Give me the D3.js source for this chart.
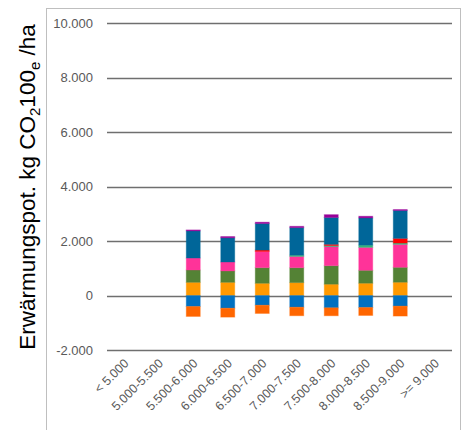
<!DOCTYPE html>
<html>
<head>
<meta charset="utf-8">
<script src="https://cdn.jsdelivr.net/npm/d3@7"></script>
<style>
  html, body { margin: 0; padding: 0; background: #fff; }
  svg { display: block; }
</style>
</head>
<body>
<svg id="chart" width="462" height="430"></svg>
<script>
// ---- data ----
const categories = ["< 5.000", "5.000-5.500", "5.500-6.000", "6.000-6.500", "6.500-7.000",
                    "7.000-7.500", "7.500-8.000", "8.000-8.500", "8.500-9.000", ">= 9.000"];
const yTicks = [-2000, 0, 2000, 4000, 6000, 8000, 10000];
const yTickLabels = ["-2.000", "0", "2.000", "4.000", "6.000", "8.000", "10.000"];

// positive components (bottom to top)
const serOrange   = [0, 0, 486, 486, 450, 475, 417, 453, 490, 0];
const serGreen    = [0, 0, 453, 417, 574, 548, 680, 475, 548, 0];
const serPink     = [0, 0, 439, 329, 596, 413, 700, 841, 841, 0];
const serTeal     = [0, 0, 0, 0, 0, 48, 37, 84, 48, 0];
const serRed      = [0, 0, 0, 0, 51, 0, 48, 0, 172, 0];
const serDarkBlue = [0, 0, 998, 888, 973, 1009, 985, 998, 1024, 0];
const serPurple   = [0, 0, 35, 48, 51, 51, 105, 62, 37, 0];
// negative components (top to bottom)
const serBlue      = [0, 0, -402, -464, -355, -428, -450, -439, -388, 0];
const serOrangeRed = [0, 0, -366, -329, -303, -314, -293, -293, -366, 0];

const seriesList = [
  { name: "Serie 1", values: serOrange,    color: "#FF9900" },
  { name: "Serie 2", values: serGreen,     color: "#548235" },
  { name: "Serie 3", values: serPink,      color: "#FF3399" },
  { name: "Serie 4", values: serTeal,      color: "#33B37A" },
  { name: "Serie 5", values: serRed,       color: "#FF0000" },
  { name: "Serie 6", values: serDarkBlue,  color: "#006699" },
  { name: "Serie 7", values: serPurple,    color: "#990099" },
  { name: "Serie 8", values: serBlue,      color: "#0070C0" },
  { name: "Serie 9", values: serOrangeRed, color: "#FF6600" }
];

// ---- layout ----
const svg = d3.select("#chart");
const plot = { left: 107, right: 452, top: 23.3, bottom: 350 };

const x = d3.scaleBand().domain(categories).range([plot.left, plot.right]).paddingInner(0.594).paddingOuter(0.297);
const y = d3.scaleLinear().domain([-2000, 10000]).range([plot.bottom, plot.top]);

// chart frame
svg.append("rect")
  .attr("x", 46.5).attr("y", 8.5).attr("width", 414).attr("height", 430)
  .attr("fill", "none").attr("stroke", "#bfbfbf").attr("stroke-width", 1);

// gridlines
svg.append("g").selectAll("line").data(yTicks).join("line")
  .attr("x1", plot.left).attr("x2", plot.right)
  .attr("y1", d => Math.round(y(d)) + 0.5).attr("y2", d => Math.round(y(d)) + 0.5)
  .attr("stroke", "#6f6f6f").attr("stroke-width", 1.6);

// y tick labels
svg.append("g").selectAll("text").data(yTicks).join("text")
  .attr("x", 93).attr("y", d => y(d))
  .attr("dy", "0.35em")
  .attr("text-anchor", "end")
  .attr("font-family", "Liberation Sans, Arial, sans-serif")
  .attr("font-size", 13)
  .attr("fill", "#595959")
  .text((d, i) => yTickLabels[i]);

// stacked bars, positive and negative separately
const bars = svg.append("g");
categories.forEach((cat, ci) => {
  let pos = 0, neg = 0;
  seriesList.forEach(s => {
    const v = s.values[ci];
    if (!v) return;
    let y0, y1;
    if (v >= 0) { y0 = pos; y1 = pos + v; pos = y1; }
    else { y0 = neg; y1 = neg + v; neg = y1; }
    bars.append("rect")
      .attr("x", x(cat))
      .attr("width", x.bandwidth())
      .attr("y", y(Math.max(y0, y1)))
      .attr("height", Math.abs(y(y0) - y(y1)))
      .attr("fill", s.color)
      .attr("stroke", s.color).attr("stroke-opacity", 0.35).attr("stroke-width", 1);
  });
});

// x labels rotated
svg.append("g").selectAll("text").data(categories).join("text")
  .attr("transform", d => `translate(${x(d) + x.bandwidth() / 2 + 2},${361}) rotate(-45)`)
  .attr("text-anchor", "end")
  .attr("dy", "0.35em")
  .attr("font-family", "Liberation Sans, Arial, sans-serif")
  .attr("font-size", 12.5)
  .attr("fill", "#595959")
  .text(d => d);

// y axis title
const title = svg.append("text")
  .attr("transform", "translate(35,187) rotate(-90)")
  .attr("text-anchor", "middle")
  .attr("font-family", "Liberation Sans, Arial, sans-serif")
  .attr("font-size", 22.5)
  .attr("fill", "#000");
title.append("tspan").text("Erwärmungspot. kg CO");
title.append("tspan").attr("font-size", 15).attr("dy", 5).text("2");
title.append("tspan").attr("dy", -5).text("100");
title.append("tspan").attr("font-size", 15).attr("dy", 5).text("e");
title.append("tspan").attr("dy", -5).text(" /ha");
</script>
</body>
</html>
